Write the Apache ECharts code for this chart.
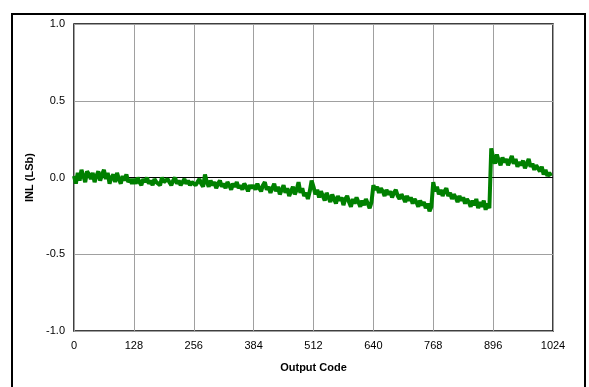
<!DOCTYPE html>
<html>
<head>
<meta charset="utf-8">
<script src="https://cdn.jsdelivr.net/npm/echarts@6/dist/echarts.min.js"></script>
<style>
  html, body { margin: 0; padding: 0; background: #fff; }
  #chart { width: 589px; height: 387px; }
</style>
</head>
<body>
<div id="chart"></div>
<script>
// x tick labels (output code)
var xTicks = [0, 128, 256, 384, 512, 640, 768, 896, 1024];
var yTicks = [-1.0, -0.5, 0.0, 0.5, 1.0];

// INL values, one every 4 codes (rows of 128 codes)
var inl0 = [0.01, -0.04, 0.03, -0.02, 0.05, 0.01, -0.03, 0.04, 0.02, -0.01, 0.03, -0.03, 0.01, 0.04, -0.02, 0.02,
            0.05, -0.01, 0.03, -0.04, 0.00, 0.02, -0.03, 0.03, -0.01, -0.04, 0.01, -0.02, 0.02, -0.03, -0.01, -0.04];
var inl1 = [-0.01, -0.04, 0.00, -0.03, -0.05, -0.01, -0.03, 0.00, -0.04, -0.02, -0.05, -0.01, -0.03, -0.02, -0.05, 0.00,
            -0.03, -0.04, -0.01, -0.03, -0.05, -0.02, 0.00, -0.04, -0.02, -0.05, -0.03, -0.01, -0.04, -0.02, -0.05, -0.03];
var inl2 = [-0.02, -0.05, -0.03, -0.01, -0.04, -0.06, 0.02, -0.03, -0.06, -0.02, -0.05, -0.03, -0.07, -0.04, -0.02, -0.06,
            -0.04, -0.07, -0.03, -0.05, -0.08, -0.04, -0.06, -0.03, -0.07, -0.05, -0.08, -0.04, -0.06, -0.09, -0.05, -0.07];
var inl3 = [-0.05, -0.08, -0.04, -0.07, -0.09, -0.05, -0.03, -0.08, -0.06, -0.10, -0.07, -0.04, -0.09, -0.06, -0.11, -0.08,
            -0.05, -0.10, -0.07, -0.12, -0.09, -0.06, -0.11, -0.08, -0.03, -0.10, -0.07, -0.12, -0.10, -0.14, -0.09, -0.02];
var inl4 = [-0.06, -0.11, -0.08, -0.13, -0.09, -0.12, -0.15, -0.10, -0.13, -0.16, -0.11, -0.14, -0.17, -0.12, -0.15, -0.13,
            -0.18, -0.14, -0.12, -0.16, -0.19, -0.14, -0.17, -0.13, -0.16, -0.19, -0.15, -0.18, -0.14, -0.17, -0.20, -0.16];
var inl5 = [-0.05, -0.08, -0.06, -0.10, -0.07, -0.09, -0.12, -0.08, -0.11, -0.09, -0.13, -0.10, -0.08, -0.12, -0.14, -0.11,
            -0.13, -0.16, -0.12, -0.15, -0.13, -0.17, -0.14, -0.16, -0.19, -0.15, -0.18, -0.16, -0.20, -0.17, -0.22, -0.19];
var inl6 = [-0.03, -0.09, -0.06, -0.11, -0.08, -0.12, -0.09, -0.07, -0.12, -0.10, -0.14, -0.11, -0.13, -0.16, -0.12, -0.15,
            -0.13, -0.17, -0.14, -0.16, -0.19, -0.15, -0.18, -0.14, -0.20, -0.16, -0.19, -0.15, -0.21, -0.17, -0.20, 0.19];
var inl7 = [0.13, 0.09, 0.15, 0.11, 0.08, 0.13, 0.10, 0.12, 0.08, 0.11, 0.14, 0.09, 0.12, 0.07, 0.10, 0.08,
            0.11, 0.06, 0.09, 0.12, 0.07, 0.09, 0.05, 0.08, 0.06, 0.04, 0.07, 0.02, 0.05, 0.01, 0.03, 0.01];

var inl = [].concat(inl0, inl1, inl2, inl3, inl4, inl5, inl6, inl7);
var codeStep = 4;

// pair each value with its output code
var seriesData = inl.map(function (v, i) { return [i * codeStep, v]; });

var font = 'Liberation Sans, Arial, sans-serif';
var chart = echarts.init(document.getElementById('chart'));

chart.setOption({
  animation: false,
  backgroundColor: '#fff',
  graphic: [{
    type: 'rect',
    shape: { x: 12, y: 14, width: 573, height: 390 },
    style: { fill: 'none', stroke: '#000', lineWidth: 2 },
    silent: true
  }],
  grid: {
    left: 74, right: 36, top: 24, bottom: 56,
    show: true, borderColor: '#000', borderWidth: 1.5, backgroundColor: 'transparent'
  },
  xAxis: {
    type: 'value',
    min: xTicks[0], max: xTicks[xTicks.length - 1], interval: 128,
    name: 'Output Code', nameLocation: 'middle', nameGap: 31,
    nameTextStyle: { fontFamily: font, fontSize: 11, fontWeight: 'bold', color: '#000' },
    axisLine: { show: false },
    axisTick: { show: false },
    axisLabel: {
      fontFamily: font, fontSize: 11, color: '#000', margin: 9,
      formatter: function (v) { return String(v); }
    },
    splitLine: { show: true, lineStyle: { color: '#a0a0a0', width: 1 } }
  },
  yAxis: {
    type: 'value',
    min: yTicks[0], max: yTicks[yTicks.length - 1], interval: 0.5,
    name: 'INL (LSb)', nameLocation: 'middle', nameGap: 35,
    nameTextStyle: { fontFamily: font, fontSize: 11, fontWeight: 'bold', color: '#000' },
    axisLine: { show: false },
    axisTick: { show: false },
    axisLabel: {
      fontFamily: font, fontSize: 11, color: '#000', margin: 9,
      formatter: function (v) { return v.toFixed(1); }
    },
    splitLine: { show: true, lineStyle: { color: '#a0a0a0', width: 1 } }
  },
  series: [{
    type: 'line',
    data: seriesData,
    showSymbol: false,
    lineStyle: { color: '#008000', width: 4 },
    z: 3,
    markLine: {
      silent: true,
      symbol: 'none',
      label: { show: false },
      lineStyle: { color: '#000', width: 1.2, type: 'solid' },
      data: [{ yAxis: 0 }],
      z: 2
    }
  }]
});
</script>
</body>
</html>
